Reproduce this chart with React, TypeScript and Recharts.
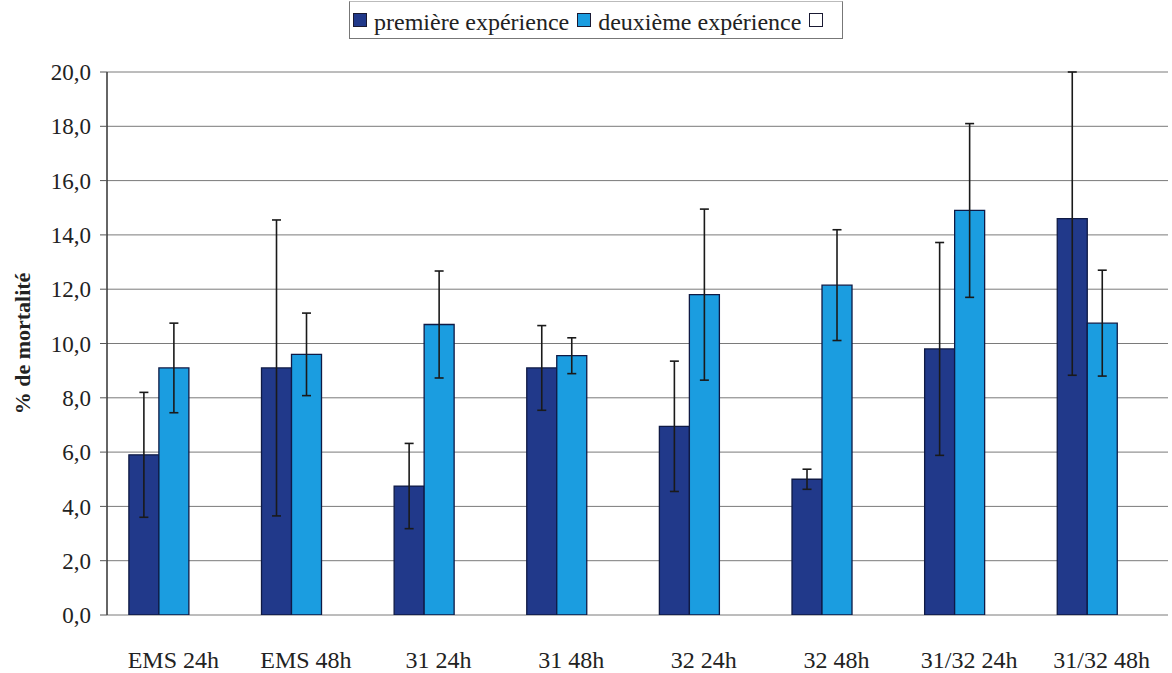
import React from "react"
import {
  BarChart,
  Bar,
  XAxis,
  YAxis,
  CartesianGrid,
  ErrorBar,
  ReferenceLine,
} from "recharts"

// mortality (%) per treatment, two runs of the experiment
const categories = [
  "EMS 24h",
  "EMS 48h",
  "31 24h",
  "31 48h",
  "32 24h",
  "32 48h",
  "31/32 24h",
  "31/32 48h",
]
const premiere = [5.9, 9.1, 4.75, 9.1, 6.95, 5.0, 9.8, 14.6]
const premiereErr = [2.3, 5.45, 1.57, 1.56, 2.4, 0.37, 3.92, 5.77]
const deuxieme = [9.1, 9.6, 10.7, 9.55, 11.8, 12.15, 14.9, 10.75]
const deuxiemeErr = [1.65, 1.52, 1.97, 0.66, 3.15, 2.04, 3.2, 1.95]
// third (empty) series kept from the workbook
const troisieme = [0, 0, 0, 0, 0, 0, 0, 0]

const Y_MAX = 20
const yTicks = [0, 2, 4, 6, 8, 10, 12, 14, 16, 18, 20]
const edgeTicks = [0, 1, 2, 3, 4, 5, 6, 7, 8]

const series = [
  { key: "premiere", name: "première expérience", fill: "#21398a" },
  { key: "deuxieme", name: "deuxième expérience", fill: "#1b9de0" },
  { key: "troisieme", name: "", fill: "#ffffff" },
]

// error bars are cut at the top of the value axis, like the plot area clip
const clipErr = (v: number, e: number) => [e, Math.min(e, Y_MAX - v)]

const data = categories.map((name, i) => ({
  name,
  premiere: premiere[i],
  premiereErr: clipErr(premiere[i], premiereErr[i]),
  deuxieme: deuxieme[i],
  deuxiemeErr: clipErr(deuxieme[i], deuxiemeErr[i]),
  troisieme: troisieme[i],
}))

const FONT =
  "'Liberation Serif', 'DejaVu Serif', 'Times New Roman', Times, serif"

const fmt = (v: number) => v.toFixed(1).replace(".", ",")

function LegendBox() {
  return (
    <div
      style={{
        position: "absolute",
        left: 349,
        top: 1,
        width: 494,
        height: 38,
        border: "1px solid #777",
        borderTop: "1px solid #bbb",
        display: "flex",
        alignItems: "center",
        paddingLeft: 3,
        paddingTop: 5,
        fontFamily: FONT,
        fontSize: 24,
        color: "#222",
        boxSizing: "border-box",
        background: "#fff",
      }}
    >
      {series.map((s) => (
        <div key={s.key} style={{ display: "flex", alignItems: "center" }}>
          <span
            style={{
              display: "inline-block",
              width: 12,
              height: 12,
              background: s.fill,
              border: "1px solid #1a1a33",
              marginRight: 7,
              marginTop: -6,
            }}
          />
          {s.name && <span style={{ marginRight: 8 }}>{s.name}</span>}
        </div>
      ))}
    </div>
  )
}

export default function App() {
  return (
    <div
      style={{
        position: "absolute",
        left: 0,
        top: 0,
        width: 1172,
        height: 673,
        background: "#fff",
        fontFamily: FONT,
      }}
    >
      <BarChart
        width={1172}
        height={673}
        data={data}
        margin={{ top: 72, right: 4, bottom: 0, left: 0 }}
        barCategoryGap="16.5%"
        barGap={0}
        style={{ fontFamily: FONT }}
      >
        <CartesianGrid
          horizontal
          vertical={false}
          stroke="#7a7a7a"
          strokeWidth={1}
        />
        <XAxis
          xAxisId="edge"
          type="number"
          domain={[0, 8]}
          ticks={edgeTicks}
          allowDataOverflow
          height={0}
          tickFormatter={() => ""}
          tickSize={7}
          axisLine={{ stroke: "#333", strokeWidth: 1.5 }}
          tickLine={{ stroke: "#666" }}
        />
        <XAxis
          dataKey="name"
          height={58}
          axisLine={false}
          tickLine={false}
          tickSize={0}
          tickMargin={36}
          interval={0}
          tick={{ fill: "#222", fontSize: 24, fontFamily: FONT }}
        />
        <YAxis
          width={107}
          domain={[0, Y_MAX]}
          ticks={yTicks}
          allowDataOverflow
          tickFormatter={fmt}
          tickSize={7}
          tickMargin={9}
          axisLine={{ stroke: "#333", strokeWidth: 1.5 }}
          tickLine={{ stroke: "#555" }}
          tick={{ fill: "#222", fontSize: 23, fontFamily: FONT }}
          label={{
            value: "% de mortalité",
            angle: -90,
            position: "insideLeft",
            offset: 22,
            style: {
              textAnchor: "middle",
              fontWeight: "bold",
              fontSize: 22,
              fill: "#222",
              fontFamily: FONT,
            },
          }}
        />
        <ReferenceLine xAxisId="edge" x={8} stroke="#aaa" strokeWidth={1} />
        <Bar
          dataKey="premiere"
          name={series[0].name}
          fill={series[0].fill}
          stroke="#0f1a45"
          strokeWidth={1.3}
          isAnimationActive={false}
        >
          <ErrorBar
            dataKey="premiereErr"
            width={4.5}
            stroke="#1a1a1a"
            strokeWidth={1.6}
          />
        </Bar>
        <Bar
          dataKey="deuxieme"
          name={series[1].name}
          fill={series[1].fill}
          stroke="#0f1a45"
          strokeWidth={1.3}
          isAnimationActive={false}
        >
          <ErrorBar
            dataKey="deuxiemeErr"
            width={4.5}
            stroke="#1a1a1a"
            strokeWidth={1.6}
          />
        </Bar>
        <Bar
          dataKey="troisieme"
          name="troisieme"
          fill={series[2].fill}
          stroke="#1a1a33"
          isAnimationActive={false}
        />
      </BarChart>
      <LegendBox />
    </div>
  )
}
